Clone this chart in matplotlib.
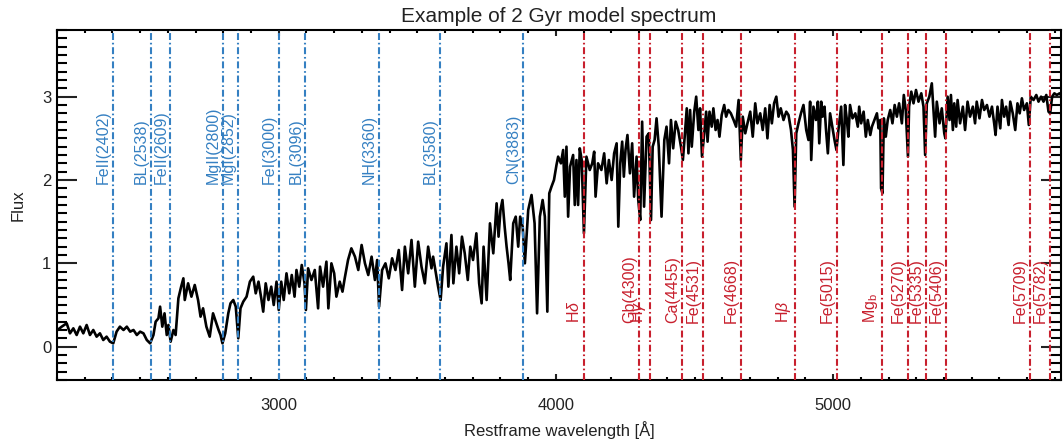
import matplotlib.pyplot as plt
from matplotlib.ticker import MultipleLocator

plt.rcParams['font.family'] = ['Liberation Sans', 'DejaVu Sans']
plt.rcParams['mathtext.fontset'] = 'custom'
plt.rcParams['mathtext.rm'] = 'Liberation Sans'
plt.rcParams['mathtext.it'] = 'Liberation Sans:italic'
plt.rcParams['lines.scale_dashes'] = False

BLUE = '#3580c2'
RED = '#c8202e'

# UV part of the model spectrum (Angstrom, flux)
wave_uv = [2202, 2217, 2235, 2247, 2259, 2271, 2283, 2295, 2307, 2319, 2331, 2343, 2355, 2367,
           2379, 2391, 2403, 2415, 2427, 2440, 2452, 2464, 2476, 2488, 2500, 2512, 2524, 2536,
           2548, 2556, 2566, 2572, 2580, 2588, 2596, 2602, 2610, 2620, 2628, 2638, 2648, 2656,
           2661, 2673, 2685, 2697, 2709, 2718, 2727, 2739, 2751, 2763, 2773, 2783, 2790, 2797,
           2807, 2818, 2826, 2836, 2845, 2854, 2862, 2872, 2884, 2896, 2908, 2917, 2927, 2937,
           2944, 2953, 2963, 2973, 2982, 2992, 3000, 3009, 3018, 3028, 3038, 3047, 3057, 3064,
           3074, 3083, 3093, 3098, 3106, 3118, 3130, 3142, 3149, 3160, 3172, 3179, 3190, 3200,
           3208, 3220, 3230, 3238, 3250, 3262, 3275, 3287, 3299, 3311, 3323, 3335, 3347, 3355,
           3362, 3373, 3385, 3397, 3409, 3421, 3433, 3445, 3455, 3467, 3479, 3491, 3503, 3515,
           3527, 3539, 3551, 3557, 3567, 3575, 3584, 3593, 3605, 3612, 3623, 3630, 3641, 3651,
           3661, 3671, 3682, 3691, 3701, 3713, 3723, 3732, 3739, 3750, 3762, 3774, 3786, 3793,
           3800, 3807, 3815, 3822, 3829, 3835, 3846, 3855, 3864, 3871, 3880, 3888, 3900, 3912,
           3923, 3932, 3942, 3952, 3960, 3969, 3976, 3984, 3993, 4002]
flux_uv = [0.20, 0.24, 0.28, 0.16, 0.22, 0.14, 0.24, 0.16, 0.26, 0.14, 0.20, 0.12, 0.16, 0.08,
           0.12, 0.06, 0.04, 0.18, 0.24, 0.20, 0.24, 0.18, 0.20, 0.14, 0.18, 0.16, 0.08, 0.04,
           0.14, 0.30, 0.34, 0.48, 0.24, 0.40, 0.14, 0.26, 0.06, 0.20, 0.14, 0.58, 0.72, 0.82,
           0.56, 0.76, 0.60, 0.74, 0.56, 0.36, 0.46, 0.24, 0.12, 0.40, 0.30, 0.20, 0.14, 0.04,
           0.16, 0.40, 0.52, 0.56, 0.48, 0.10, 0.46, 0.54, 0.60, 0.78, 0.84, 0.64, 0.78, 0.58,
           0.42, 0.76, 0.56, 0.72, 0.50, 0.78, 0.44, 0.78, 0.56, 0.88, 0.64, 0.86, 0.60, 0.92,
           0.72, 0.98, 0.76, 0.44, 0.94, 0.80, 0.92, 0.46, 0.96, 0.72, 1.02, 0.46, 1.00, 0.88,
           0.60, 0.78, 0.66, 0.82, 1.04, 1.18, 1.08, 0.92, 1.22, 1.00, 0.86, 1.08, 0.80, 1.04,
           0.48, 0.92, 1.00, 0.82, 1.06, 0.92, 1.16, 0.68, 1.20, 0.88, 1.28, 0.72, 1.26, 0.96,
           0.76, 1.20, 0.94, 1.08, 0.88, 0.72, 0.56, 0.96, 1.24, 0.72, 1.34, 0.76, 1.20, 0.88,
           1.32, 1.12, 0.80, 1.20, 1.04, 1.36, 0.76, 0.52, 1.20, 0.56, 1.48, 1.12, 1.72, 1.32,
           1.64, 1.76, 1.44, 1.20, 1.00, 0.80, 1.48, 1.56, 1.20, 1.56, 1.44, 1.00, 1.64, 1.82,
           1.48, 0.40, 1.56, 1.76, 1.56, 0.42, 1.84, 1.92, 2.00, 2.18]

# optical part
wave_opt = [4008, 4018, 4026, 4032, 4038, 4044, 4051, 4062, 4068, 4074, 4080, 4086, 4093, 4101,
            4110, 4122, 4131, 4138, 4143, 4152, 4164, 4174, 4183, 4191, 4201, 4210, 4219, 4225,
            4232, 4239, 4245, 4251, 4258, 4267, 4275, 4282, 4291, 4297, 4304, 4311, 4318, 4327,
            4335, 4343, 4349, 4356, 4363, 4371, 4381, 4391, 4399, 4408, 4415, 4423, 4432, 4441,
            4451, 4458, 4465, 4472, 4478, 4484, 4490, 4499, 4506, 4514, 4520, 4527, 4535, 4542,
            4547, 4554, 4562, 4568, 4576, 4583, 4590, 4598, 4607, 4614, 4622, 4631, 4641, 4650,
            4659, 4667, 4674, 4683, 4691, 4701, 4710, 4719, 4727, 4737, 4746, 4755, 4763, 4771,
            4779, 4787, 4795, 4803, 4811, 4821, 4831, 4839, 4848, 4855, 4861, 4867, 4875, 4884,
            4893, 4903, 4911, 4917, 4921, 4929, 4938, 4945, 4950, 4957, 4962, 4969, 4974, 4981,
            4989, 4998, 5005, 5012, 5019, 5029, 5037, 5043, 5049, 5055, 5061, 5070, 5080, 5089,
            5094, 5101, 5110, 5118, 5125, 5134, 5140, 5149, 5158, 5164, 5170, 5173, 5178, 5183,
            5190, 5197, 5206, 5214, 5222, 5230, 5238, 5248, 5255, 5262, 5270, 5274, 5282, 5290,
            5299, 5308, 5318, 5326, 5332, 5338, 5347, 5356, 5362, 5368, 5374, 5384, 5392, 5401,
            5405, 5413, 5420, 5425, 5432, 5437, 5444, 5449, 5458, 5468, 5476, 5485, 5494, 5504,
            5512, 5518, 5528, 5537, 5545, 5555, 5564, 5573, 5581, 5586, 5593, 5603, 5609, 5617,
            5624, 5633, 5639, 5648, 5657, 5665, 5673, 5681, 5689, 5699, 5706, 5713, 5723, 5733,
            5741, 5750, 5759, 5769, 5777, 5783, 5790, 5798, 5807, 5817, 5826]
flux_opt = [2.28, 2.20, 2.36, 1.80, 2.40, 1.56, 2.16, 2.30, 1.70, 2.24, 1.70, 2.38, 2.24, 1.36,
            2.28, 2.12, 2.20, 2.34, 1.80, 2.20, 2.12, 2.32, 1.96, 2.24, 2.00, 2.32, 2.44, 1.44,
            2.20, 2.46, 2.04, 2.36, 2.54, 2.08, 2.44, 1.80, 2.28, 1.76, 1.52, 2.70, 1.68, 2.52,
            2.56, 1.52, 2.40, 2.48, 2.74, 2.40, 1.56, 2.48, 2.64, 2.20, 2.72, 2.38, 2.70, 2.60,
            2.40, 2.24, 2.54, 2.86, 2.32, 2.84, 2.40, 2.82, 3.00, 2.60, 2.86, 2.28, 2.56, 2.82,
            2.46, 2.82, 2.64, 2.86, 2.60, 2.72, 2.52, 2.78, 2.90, 2.76, 2.84, 2.80, 2.72, 2.64,
            2.96, 2.24, 2.76, 2.56, 2.68, 2.82, 2.52, 2.92, 2.68, 2.80, 2.60, 2.86, 2.50, 2.90,
            2.68, 2.92, 3.00, 2.76, 2.86, 2.72, 2.82, 2.78, 2.60, 2.36, 1.68, 2.56, 2.68, 2.80,
            2.90, 2.60, 2.48, 2.94, 2.24, 2.88, 2.72, 2.94, 2.44, 2.94, 2.76, 2.88, 2.62, 2.32,
            2.80, 2.62, 2.48, 2.36, 2.60, 2.88, 2.18, 2.90, 2.74, 2.52, 2.90, 2.74, 2.80, 2.64,
            2.88, 2.68, 2.82, 2.52, 2.72, 2.54, 2.64, 2.72, 2.80, 2.62, 2.72, 1.90, 1.84, 2.74,
            2.52, 2.72, 2.84, 2.68, 2.90, 2.76, 2.92, 2.68, 3.02, 2.84, 2.28, 2.88, 3.06, 2.92,
            3.08, 2.94, 3.04, 2.88, 2.30, 2.92, 3.00, 3.16, 2.84, 2.52, 2.94, 2.68, 2.86, 2.56,
            2.50, 3.00, 2.72, 3.02, 2.60, 2.92, 2.64, 2.96, 2.68, 2.88, 2.60, 2.94, 2.76, 2.88,
            2.68, 2.94, 2.74, 2.96, 2.84, 2.90, 2.76, 2.88, 2.68, 2.54, 2.88, 2.62, 2.96, 2.76,
            2.88, 2.66, 2.94, 2.80, 2.60, 2.92, 2.80, 2.98, 2.84, 2.92, 2.66, 3.00, 2.96, 3.02,
            2.94, 3.00, 2.94, 3.02, 2.82, 2.80, 3.00, 3.04, 3.02, 3.04, 3.00]

uv_names = ['FeII(2402)', 'BL(2538)', 'FeII(2609)', 'MgII(2800)', 'MgI(2852)',
            'FeI(3000)', 'BL(3096)', 'NH(3360)', 'BL(3580)', 'CN(3883)']
uv_waves = [2402, 2538, 2609, 2800, 2852, 3000, 3096, 3360, 3580, 3883]

opt_names = [r'H$\delta$', 'Gb(4300)', r'H$\gamma$', 'Ca(4455)', 'Fe(4531)', 'Fe(4668)',
             r'H$\beta$', 'Fe(5015)', r'Mg$_{\rm b}$', 'Fe(5270)', 'Fe(5335)', 'Fe(5406)',
             'Fe(5709)', 'Fe(5782)']
opt_waves = [4102, 4300, 4340, 4455, 4531, 4668, 4861, 5015, 5175, 5270, 5335, 5406, 5709, 5782]

fig = plt.figure(figsize=(10.63, 4.47), dpi=100)
ax = fig.add_axes([0.0536, 0.1499, 0.9445, 0.783])

ax.plot(wave_uv + wave_opt, flux_uv + flux_opt, color='k', lw=1.9, zorder=3)

dashdot = (0, (5, 2, 1.2, 2))
for w, name in zip(uv_waves, uv_names):
    ax.axvline(w, color=BLUE, lw=1.5, linestyle=dashdot, zorder=4)
    ax.annotate(name, xy=(w, 1.95), xytext=(-1.5, 0), textcoords='offset points',
                rotation=90, ha='right', va='bottom', color=BLUE, fontsize=11.5)
for w, name in zip(opt_waves, opt_names):
    ax.axvline(w, color=RED, lw=1.5, linestyle=dashdot, zorder=4)
    ax.annotate(name, xy=(w, 0.28), xytext=(-1.5, 0), textcoords='offset points',
                rotation=90, ha='right', va='bottom', color=RED, fontsize=11.5)

ax.set_xlim(2200, 5822)
ax.set_ylim(-0.4, 3.8)
ax.xaxis.set_major_locator(MultipleLocator(1000))
ax.xaxis.set_minor_locator(MultipleLocator(100))
ax.yaxis.set_major_locator(MultipleLocator(1))
ax.yaxis.set_minor_locator(MultipleLocator(0.1))
ax.tick_params(axis='x', which='major', direction='in', length=4.3, width=1.5,
               top=True, pad=13, labelsize=12, colors='#222222')
ax.tick_params(axis='x', which='minor', direction='in', length=2.2, width=1.5, top=True)
ax.tick_params(axis='y', which='major', direction='in', length=14.4, width=1.5,
               right=True, pad=4, labelsize=12, colors='#222222')
ax.tick_params(axis='y', which='minor', direction='in', length=7.2, width=1.5, right=True)
for sp in ax.spines.values():
    sp.set_linewidth(1.5)

ax.set_xlabel('Restframe wavelength [Å]', fontsize=12, labelpad=6, color='#222222')
ax.set_ylabel('Flux', fontsize=12, labelpad=12, color='#222222')
ax.set_title('Example of 2 Gyr model spectrum', fontsize=15, pad=6, color='#222222')

fig.savefig('out.png', dpi=100)
